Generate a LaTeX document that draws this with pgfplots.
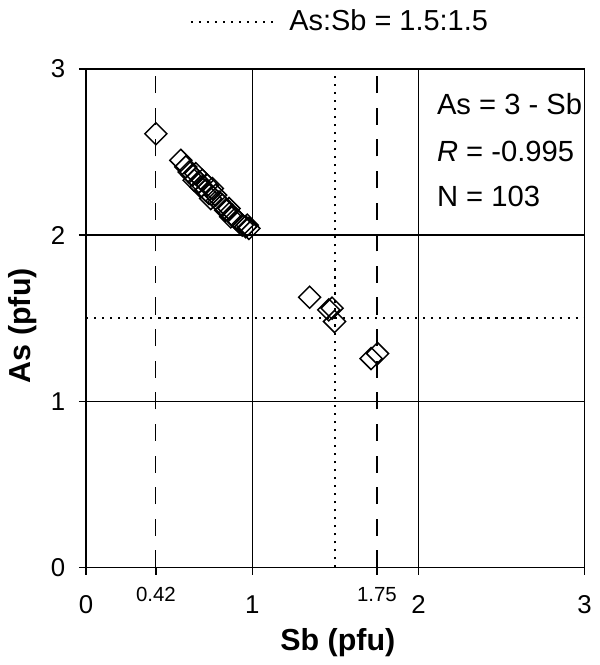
\documentclass[border=0pt]{standalone}
\usepackage{pgfplots}
\pgfplotsset{compat=1.18}
\usepackage{fontspec}
\setmainfont{Liberation Sans}

\pgfplotstableread{
sb   as
0.42 2.61
0.57 2.45
0.60 2.41
0.62 2.38
0.64 2.36
0.65 2.33
0.66 2.37
0.68 2.32
0.69 2.29
0.70 2.33
0.72 2.27
0.73 2.30
0.74 2.25
0.75 2.22
0.76 2.28
0.78 2.24
0.80 2.20
0.82 2.18
0.84 2.15
0.86 2.16
0.87 2.11
0.88 2.12
0.90 2.10
0.92 2.08
0.94 2.06
0.96 2.05
0.98 2.04
0.97 2.06
1.345 1.626
1.46 1.55
1.48 1.56
1.495 1.48
1.715 1.257
1.754 1.287
}\data

\begin{document}
\begin{tikzpicture}
\begin{axis}[
    width=205pt, height=205pt, scale only axis,
    xmin=0, xmax=3, ymin=0, ymax=3,
    xtick={0,1,2,3}, ytick={0,1,2,3},
    extra x ticks={0.42,1.75},
    extra x tick style={
        major grid style={black, line width=0.5pt, dash pattern=on 7pt off 6pt},
        xticklabel style={font=\fontsize{8.4}{10}\selectfont, yshift=3.5pt},
        /pgf/number format/precision=2,
    },
    grid=major,
    major grid style={black, line width=0.6pt},
    axis line style={line width=0.7pt},
    tick align=outside, xtick pos=bottom, ytick pos=left,
    major tick length=3pt,
    tick style={black, line width=0.6pt},
    tick label style={font=\fontsize{10.6}{12}\selectfont},
    xticklabel style={yshift=-5pt},
    yticklabel style={xshift=-2pt},
    /pgf/number format/assume math mode=true,
    xlabel={Sb (pfu)}, ylabel={As (pfu)},
    label style={font=\fontsize{12.5}{15}\selectfont\bfseries},
    xlabel style={at={(axis description cs:0.505,-0.151)}, anchor=center},
    ylabel style={at={(axis description cs:-0.128,0.485)}, anchor=center},
    legend style={at={(0.512,1.094)}, anchor=center, draw=none, fill=none,
        font=\fontsize{11.9}{14}\selectfont},
    legend image code/.code={\draw[#1] (0pt,0pt) -- (34pt,0pt);},
]
\addplot[black, line width=0.9pt, dash pattern=on 0.9pt off 2.4pt] coordinates {(0,1.5) (3,1.5)};
\addlegendentry{\hspace{4pt}As:Sb = 1.5:1.5}
\addplot[black, line width=0.9pt, dash pattern=on 0.9pt off 2.4pt, forget plot] coordinates {(1.5,0) (1.5,3)};
\addplot[only marks, mark=square, mark size=3.2pt,
    mark options={rotate=45, black, line width=0.6pt, fill=none}, forget plot]
    table[x=sb, y=as] {\data};
\node[anchor=west, font=\fontsize{12}{14}\selectfont] at (axis cs:2.06,2.79) {As = 3 - Sb};
\node[anchor=west, font=\fontsize{12}{14}\selectfont] at (axis cs:2.06,2.505) {\textit{R} = -0.995};
\node[anchor=west, font=\fontsize{12}{14}\selectfont] at (axis cs:2.06,2.23) {N = 103};
\end{axis}
\end{tikzpicture}
\end{document}
